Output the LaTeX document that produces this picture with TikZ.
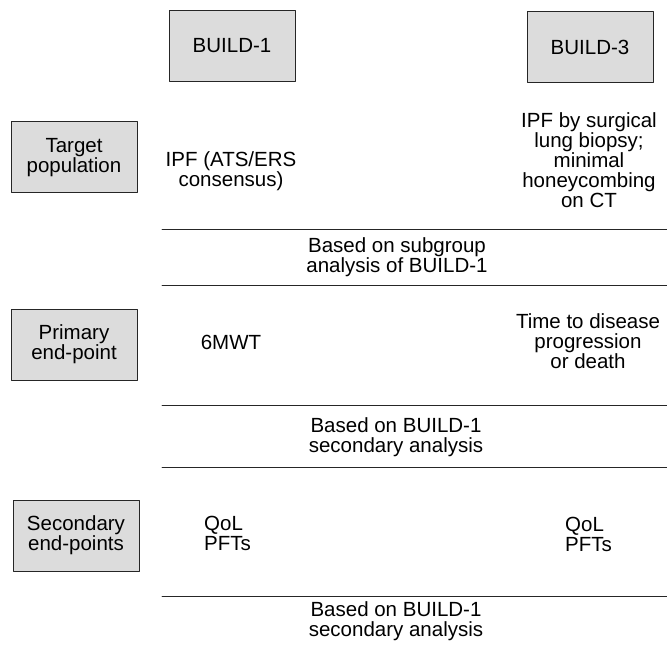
\documentclass[tikz,border=0pt]{standalone}
\usepackage{fontspec}
\setmainfont{Liberation Sans}
\definecolor{boxgray}{HTML}{DCDCDC}
\begin{document}
\begin{tikzpicture}[x=1pt,y=-1pt,line cap=round,line join=round,
  font=\fontsize{20.5}{20}\selectfont,
  headbox/.style={draw=black!85,fill=boxgray,line width=1pt,minimum width=126pt,minimum height=71pt,inner sep=0pt,align=center},
  cell/.style={align=center,inner sep=0pt},
  note/.style={align=center,inner sep=0pt}]
  \useasboundingbox (0,0) rectangle (667,650);
  % column and row heads
  \node[headbox] (build1) at (232,46) {BUILD-1};
  \node[headbox] (build3) at (590,47.5) {BUILD-3};
  \node[headbox] (target) at (74,157.5) {Target\\population};
  \node[headbox] (primary) at (74,344.5) {Primary\\end-point};
  \node[headbox] (secondary) at (76,535.5) {Secondary\\end-points};
  % separating rules
  \foreach \y in {229,285,405,467,596}{
    \draw[line width=0.9pt,black!85] (162,\y) -- (667,\y);
  }
  % entries
  \node[cell] (ipf1) at (231,171) {IPF (ATS/ERS\\consensus)};
  \node[cell] (ipf3) at (589,160) {IPF by surgical\\lung biopsy;\\minimal\\honeycombing\\on CT};
  \node[note] (why1) at (397,257) {Based on subgroup\\analysis of BUILD-1};
  \node[cell] (mwt) at (231,342) {6MWT};
  \node[cell] (ttp) at (588,341) {Time to disease\\progression\\or death};
  \node[note] (why2) at (396,437) {Based on BUILD-1\\secondary analysis};
  \node[cell,align=left,anchor=west] (qol1) at (204,533) {QoL\\PFTs};
  \node[cell,align=left,anchor=west] (qol3) at (565,534) {QoL\\PFTs};
  \node[note] (why3) at (396,621) {Based on BUILD-1\\secondary analysis};
\end{tikzpicture}
\end{document}
